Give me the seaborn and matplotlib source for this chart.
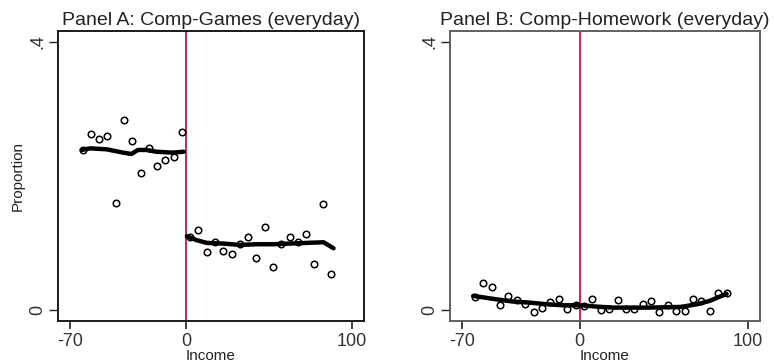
import matplotlib
matplotlib.use("Agg")
import matplotlib.pyplot as plt
import seaborn as sns
import pandas as pd

# ---- data ----
a_left_x = [-62.5, -57.5, -52.5, -47.5, -42.5, -37.5, -32.5, -27.5, -22.5, -17.5, -12.5, -7.5, -2.5]
a_left_y = [0.239, 0.263, 0.255, 0.259, 0.160, 0.283, 0.252, 0.204, 0.242, 0.215, 0.223, 0.228, 0.266]
a_right_x = [2.5, 7.5, 12.5, 17.5, 22.5, 27.5, 32.5, 37.5, 42.5, 47.5, 52.5, 57.5, 62.5, 67.5, 72.5, 77.5, 82.5, 87.5]
a_right_y = [0.109, 0.119, 0.086, 0.101, 0.088, 0.083, 0.098, 0.109, 0.078, 0.124, 0.064, 0.099, 0.109, 0.102, 0.114, 0.068, 0.158, 0.053]

a_fit_left_x = [-63, -58, -48, -38, -33, -29, -24, -18, -8, -1.5]
a_fit_left_y = [0.2386, 0.241, 0.2396, 0.2346, 0.2326, 0.2386, 0.2386, 0.236, 0.2346, 0.236]
a_fit_right_x = [0.5, 6.5, 12.5, 22.5, 32.5, 42.5, 52.5, 62.5, 72.5, 83, 89]
a_fit_right_y = [0.110, 0.104, 0.100, 0.099, 0.097, 0.098, 0.098, 0.099, 0.100, 0.101, 0.092]

b_left_x = [-62.5, -57.5, -52.5, -47.5, -42.5, -37.5, -32.5, -27.5, -22.5, -17.5, -12.5, -7.5, -2.5]
b_left_y = [0.019, 0.040, 0.034, 0.007, 0.021, 0.015, 0.009, -0.003, 0.003, 0.012, 0.016, 0.001, 0.007]
b_right_x = [2.5, 7.5, 12.5, 17.5, 22.5, 27.5, 32.5, 37.5, 42.5, 47.5, 52.5, 57.5, 62.5, 67.5, 72.5, 77.5, 82.5, 87.5]
b_right_y = [0.006, 0.017, 0.000, 0.001, 0.015, 0.001, 0.001, 0.009, 0.013, -0.003, 0.008, -0.002, -0.002, 0.017, 0.014, -0.002, 0.025, 0.025]

b_fit_left_x = [-63.5, -50, -40, -30, -20, -10, -1]
b_fit_left_y = [0.021, 0.016, 0.0126, 0.011, 0.0086, 0.007, 0.007]
b_fit_right_x = [1, 10, 20, 40, 60, 70, 77.5, 83.5, 87.5]
b_fit_right_y = [0.007, 0.005, 0.0035, 0.0035, 0.0045, 0.0086, 0.0136, 0.020, 0.024]

titles = ["Panel A: Comp-Games (everyday)", "Panel B: Comp-Homework (everyday)"]
x_ticks = [-70, 0, 100]
x_tick_labels = ["-70", "0", "100"]
y_ticks = [0, 0.4]
y_tick_labels = ["0", ".4"]

sns.set_style("white")
plt.rcParams['font.family'] = ['Liberation Sans', 'DejaVu Sans']

W, H = 774, 364
fig = plt.figure(figsize=(W / 100, H / 100), dpi=100)

axA = fig.add_axes([58 / W, (H - 320.7) / H, 306 / W, 289.7 / H])
axB = fig.add_axes([450 / W, (H - 320.7) / H, 310 / W, 289.7 / H])

panels = [
    (axA, a_left_x, a_left_y, a_right_x, a_right_y, a_fit_left_x, a_fit_left_y, a_fit_right_x, a_fit_right_y, "#b03058", "#1a1a1a"),
    (axB, b_left_x, b_left_y, b_right_x, b_right_y, b_fit_left_x, b_fit_left_y, b_fit_right_x, b_fit_right_y, "#d21e5a", "#606060"),
]

for i, (ax, lx, ly, rx, ry, flx, fly, frx, fry, vcol, scol) in enumerate(panels):
    ax.axvline(0, color=vcol, lw=1.4, zorder=1)
    pts = pd.DataFrame({"x": lx + rx, "y": ly + ry})
    sns.scatterplot(data=pts, x="x", y="y", ax=ax, marker="o", s=22,
                    facecolor="white", edgecolor="black", linewidth=1.1, zorder=3)
    fl = pd.DataFrame({"x": flx, "y": fly})
    fr = pd.DataFrame({"x": frx, "y": fry})
    sns.lineplot(data=fl, x="x", y="y", ax=ax, color="black", lw=3.2, zorder=4)
    sns.lineplot(data=fr, x="x", y="y", ax=ax, color="black", lw=3.2, zorder=4)
    ax.set_xlim(-77.3, 107.4)
    ax.set_ylim(-0.016, 0.416)
    ax.set_xticks(x_ticks)
    ax.set_xticklabels(x_tick_labels, fontsize=13, color="#333333")
    ax.set_yticks(y_ticks)
    ax.set_yticklabels(y_tick_labels, fontsize=13, rotation=90, va="center", color="#333333")
    ax.tick_params(axis="x", length=5.5, width=1.2, color="#222222", pad=3, bottom=True)
    ax.tick_params(axis="y", length=6.5, width=1.0, color="#222222", pad=2, left=True)
    for sp in ax.spines.values():
        sp.set_color(scol)
        sp.set_linewidth(1.4)
    ax.set_title(titles[i], fontsize=14, pad=4, color="#222222")
    ax.set_xlabel("Income", fontsize=11, color="#222222")
    ax.xaxis.set_label_coords(0.5, -(356 - 320.7) / 289.7)
    if i == 0:
        ax.set_ylabel("Proportion", fontsize=11, color="#222222")
        ax.yaxis.set_label_coords(-(58 - 18) / 306, 0.5)
    else:
        ax.set_ylabel("")
    ax.xaxis.label.set_va("center")
    ax.yaxis.label.set_va("center")
    ax.grid(False)

fig.savefig("out.png", dpi=100)
